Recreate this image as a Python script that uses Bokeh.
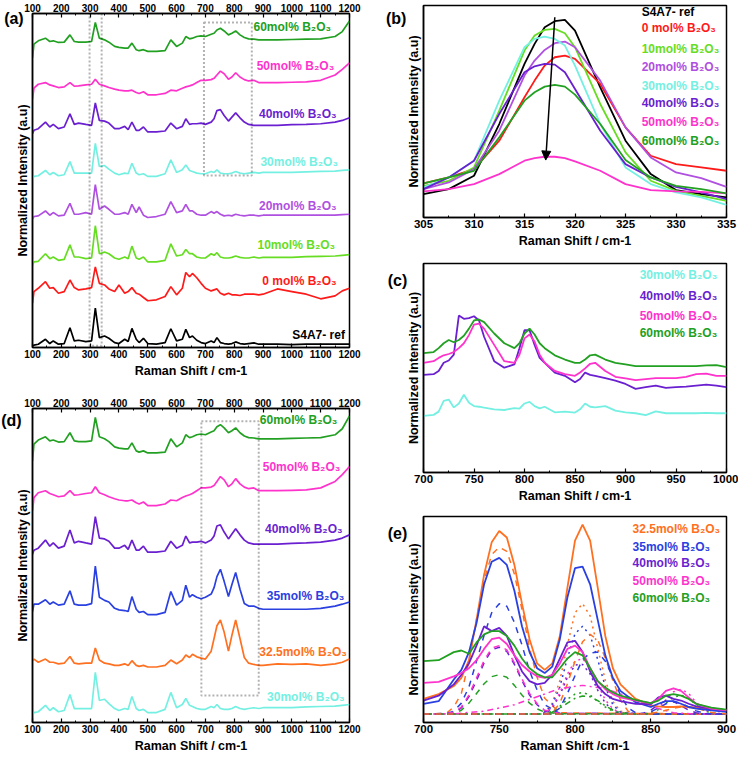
from bokeh.plotting import figure
from bokeh.layouts import row, column
from bokeh.models import Range1d, LinearAxis, FixedTicker, Label, BoxAnnotation, Arrow, NormalHead
from bokeh.embed import file_html
from bokeh.resources import INLINE

FONT = "Liberation Sans"

# ---------------- colours ----------------
C_REF = "#000000"
C_0 = "#ff1a1a"
C_10 = "#66dd22"
C_20 = "#b050e0"
C_30 = "#74f0e2"
C_40 = "#6a1fd0"
C_50 = "#ff33cc"
C_60 = "#22a022"
C_35 = "#2a40e0"
C_325 = "#ff7020"

# ---------------- panel (a)/(d) data: full spectra ----------------
X_A = [100, 105, 120, 145, 160, 172, 190, 210, 230, 245,
       260, 285, 305, 318, 332, 350, 365, 385, 400, 420,
       432, 445, 460, 470, 485, 500, 530, 560, 580, 600,
       620, 632, 645, 655, 670, 685, 700, 720, 730, 740,
       752, 765, 780, 792, 805, 820, 835, 850, 868, 885,
       900, 950, 1000, 1050, 1100, 1150, 1175, 1200]

I_REF = [0, 2, 5, 20, 7, 15, 5, 7, 55, 15, 17, 13, 15, 115, 25, 30, 23, 10, 7, 20,
         13, 53, 20, 10, 23, 7, 5, 10, 52, 15, 20, 50, 25, 30, 17, 10, 7, 15, 10, 25,
         10, 7, 5, 7, 12, 7, 5, 7, 9, 5, 5, 5, 4, 5, 5, 5, 5, 5]
I_0 = [-10, 25, 35, 55, 35, 37, 20, 25, 60, 37, 30, 33, 37, 100, 50, 45, 33, 25, 45, 20,
       25, 37, 20, 17, 7, -3, 0, 10, 40, 15, 35, 83, 70, 80, 67, 50, 35, 27, 30, 33,
       20, 15, 20, 15, 15, 13, 17, 17, 17, 15, 17, 33, 25, 17, 3, 12, 27, 35]
I_10 = [-5, 5, 7, 30, 15, 20, 10, 13, 57, 20, 20, 15, 17, 115, 30, 35, 30, 17, 13, 20,
        15, 53, 17, 13, 20, 5, 5, 10, 60, 23, 27, 43, 30, 30, 20, 17, 17, 30, 25, 33,
        20, 17, 17, 19, 23, 19, 17, 17, 20, 17, 19, 19, 19, 21, 22, 23, 25, 27]
I_20 = [-5, 3, 5, 20, 7, 15, 5, 7, 43, 10, 10, 15, 10, 100, 25, 35, 25, 10, 10, 15,
        10, 40, 15, 32, 7, 0, 3, 10, 48, 15, 20, 40, 20, 20, 10, 7, 7, 18, 13, 18,
        10, 5, 7, 5, 10, 7, 5, 7, 7, 5, 7, 7, 7, 7, 7, 7, 9, 10]
I_30 = [-5, 5, 7, 23, 10, 17, 7, 10, 50, 15, 15, 15, 15, 105, 35, 38, 27, 15, 10, 15,
        13, 45, 15, 10, 13, 5, 5, 13, 55, 17, 25, 40, 23, 20, 15, 13, 13, 20, 17, 25,
        15, 13, 13, 15, 20, 15, 13, 15, 17, 15, 17, 17, 17, 19, 20, 21, 23, 25]
I_40 = [-5, 5, 10, 30, 15, 23, 10, 15, 55, 23, 27, 23, 20, 88, 35, 33, 27, 10, 10, 17,
        7, 30, 5, 5, 15, 0, 0, 3, 27, 10, 17, 40, 23, 25, 25, 27, 23, 30, 40, 65,
        68, 50, 33, 45, 58, 43, 30, 23, 20, 20, 20, 20, 22, 23, 25, 30, 35, 43]
I_50 = [-10, 23, 35, 40, 33, 30, 25, 27, 40, 29, 30, 33, 35, 50, 35, 30, 25, 20, 17, 15,
        15, 17, 10, 7, 12, 3, 3, 7, 17, 15, 23, 27, 30, 33, 40, 47, 47, 49, 53, 63,
        75, 67, 50, 57, 70, 57, 49, 45, 47, 40, 40, 40, 41, 42, 47, 63, 80, 100]
I_60 = [-20, 22, 32, 40, 30, 32, 27, 28, 50, 30, 28, 28, 30, 88, 40, 35, 28, 15, 12, 10,
        10, 25, 5, 2, 5, 0, 0, 2, 35, 15, 25, 45, 38, 40, 45, 47, 45, 52, 55, 65,
        70, 62, 50, 55, 62, 50, 42, 38, 37, 35, 35, 35, 36, 37, 38, 45, 60, 92]
I_35 = [10, 33, 33, 47, 33, 40, 30, 33, 75, 33, 30, 30, 35, 153, 55, 45, 40, 20, 15, 13,
        10, 57, 17, 7, 10, 0, 0, 7, 73, 30, 45, 93, 55, 63, 55, 50, 55, 65, 85, 120,
        143, 105, 57, 95, 133, 80, 35, 27, 27, 20, 17, 17, 17, 17, 20, 27, 33, 40]
I_325 = [20, 25, 15, 25, 15, 15, 10, 12, 33, 12, 10, 12, 12, 60, 22, 12, 10, 5, 5, 10,
         5, 20, 5, 2, 5, 0, 0, 5, 22, 10, 22, 38, 30, 40, 32, 28, 25, 50, 90, 130,
         148, 110, 50, 100, 148, 90, 30, 12, 8, 5, 5, 10, 8, 10, 5, 10, 15, 25]

LABEL_REF = "S4A7- ref"
LABEL_0 = "0 mol% B\u2082O\u2083"
LABEL_10 = "10mol% B\u2082O\u2083"
LABEL_20 = "20mol% B\u2082O\u2083"
LABEL_30 = "30mol% B\u2082O\u2083"
LABEL_40 = "40mol% B\u2082O\u2083"
LABEL_50 = "50mol% B\u2082O\u2083"
LABEL_60 = "60mol% B\u2082O\u2083"
LABEL_35 = "35mol% B\u2082O\u2083"
LABEL_325 = "32.5mol% B\u2082O\u2083"

SERIES_A = [
    (I_REF, C_REF, 5, LABEL_REF, 1184, 38),
    (I_0, C_0, 145, LABEL_0, 1155, 202),
    (I_10, C_10, 255, LABEL_10, 1150, 310),
    (I_20, C_20, 395, LABEL_20, 1155, 430),
    (I_30, C_30, 515, LABEL_30, 1160, 565),
    (I_40, C_40, 655, LABEL_40, 1155, 710),
    (I_50, C_50, 765, LABEL_50, 1147, 855),
    (I_60, C_60, 900, LABEL_60, 1136, 975),
]
SERIES_D = [
    (I_30, C_30, 25, 1.27, LABEL_30, 1183, 80),
    (I_325, C_325, 175, 1.0, LABEL_325, 1191, 223),
    (I_35, C_35, 340, 1.0, LABEL_35, 1182, 400),
    (I_40, C_40, 537, 1.27, LABEL_40, 1176, 610),
    (I_50, C_50, 680, 1.27, LABEL_50, 1168, 805),
    (I_60, C_60, 850, 1.27, LABEL_60, 1158, 955),
]

# ---------------- panel (b) ----------------
X_B = [305, 307.5, 310, 312.5, 315, 316, 317, 318, 319, 320, 322.5, 325, 327.5, 330, 332.5, 335]
B_REF = [70, 85, 125, 280, 460, 520, 570, 588, 592, 560, 390, 230, 130, 82, 70, 60]
B_0 = [102, 120, 145, 230, 360, 410, 455, 480, 485, 475, 400, 270, 185, 160, 150, 140]
B_10 = [95, 110, 150, 320, 500, 545, 562, 565, 552, 510, 340, 195, 110, 80, 65, 50]
B_20 = [85, 105, 145, 260, 425, 470, 502, 522, 527, 510, 410, 270, 180, 135, 118, 92]
B_30 = [90, 120, 170, 350, 510, 535, 542, 535, 515, 455, 280, 150, 100, 75, 60, 38]
B_40 = [85, 120, 170, 310, 435, 453, 460, 458, 435, 385, 260, 160, 120, 92, 75, 55]
B_50 = [78, 85, 100, 130, 170, 178, 182, 182, 178, 168, 140, 100, 82, 78, 77, 72]
B_60 = [102, 120, 140, 240, 350, 375, 392, 397, 392, 368, 280, 172, 120, 95, 85, 72]
SERIES_B = [(B_REF, C_REF, LABEL_REF, 615), (B_0, C_0, LABEL_0, 568), (B_10, C_10, LABEL_10, 505),
            (B_20, C_20, LABEL_20, 450), (B_30, C_30, LABEL_30, 395), (B_40, C_40, LABEL_40, 342),
            (B_50, C_50, LABEL_50, 285), (B_60, C_60, LABEL_60, 230)]
ARROW_B = (318.0, 600, 317.1, 172)

# ---------------- panel (c) ----------------
X_C = [700, 710, 715, 720, 725, 730, 735, 740, 745, 750, 755, 760, 770, 780, 790, 795, 800, 805,
       810, 815, 820, 830, 840, 850, 855, 860, 865, 870, 880, 890, 900, 910, 920, 930, 940, 950,
       960, 970, 980, 990, 1000]
C30 = [174, 177, 187, 220, 224, 200, 212, 239, 214, 204, 202, 199, 194, 192, 198, 196, 212, 217,
       204, 197, 202, 185, 187, 184, 194, 212, 202, 200, 204, 190, 185, 182, 176, 188, 182, 182,
       182, 182, 183, 182, 182]
C40 = [300, 302, 312, 337, 344, 362, 482, 472, 474, 480, 467, 417, 342, 322, 332, 382, 437, 437,
       392, 352, 337, 307, 297, 277, 287, 307, 300, 297, 290, 282, 272, 257, 262, 267, 260, 262,
       264, 267, 270, 267, 262]
C50 = [337, 342, 352, 360, 364, 370, 382, 397, 422, 454, 457, 442, 392, 342, 337, 362, 412, 424,
       402, 362, 337, 312, 302, 297, 307, 320, 334, 337, 312, 294, 289, 284, 287, 290, 290, 290,
       294, 302, 304, 297, 297]
C60 = [367, 370, 382, 397, 407, 400, 407, 420, 442, 467, 470, 462, 427, 397, 382, 397, 427, 442,
       424, 397, 382, 360, 347, 337, 337, 347, 360, 362, 347, 337, 332, 327, 327, 327, 327, 327,
       327, 327, 329, 330, 324]
SERIES_C = [(C30, C_30, LABEL_30, 607), (C40, C_40, LABEL_40, 542), (C50, C_50, LABEL_50, 482),
            (C60, C_60, LABEL_60, 427)]

# ---------------- panel (e) ----------------
X_E = [700, 710, 720, 725, 730, 735, 740, 745, 750, 755, 760, 765, 770, 775, 780, 785, 790, 795,
       800, 805, 810, 815, 820, 825, 830, 840, 850, 855, 860, 865, 870, 875, 880, 890, 900]
E_325 = [73, 88, 113, 138, 193, 318, 458, 558, 593, 573, 488, 368, 258, 183, 163, 183, 268, 418,
         563, 613, 563, 418, 268, 168, 118, 73, 53, 50, 48, 48, 50, 48, 46, 40, 38]
E_35 = [58, 66, 133, 163, 218, 308, 428, 498, 510, 488, 408, 298, 218, 168, 153, 173, 258, 388,
        478, 483, 428, 318, 208, 138, 98, 63, 48, 58, 66, 66, 58, 48, 43, 38, 33]
E_40 = [68, 83, 118, 148, 183, 238, 298, 283, 293, 268, 208, 158, 128, 118, 123, 148, 198, 248,
        253, 218, 158, 113, 88, 73, 66, 58, 56, 78, 83, 73, 68, 58, 50, 43, 38]
E_50 = [123, 126, 143, 153, 168, 193, 228, 258, 263, 243, 208, 178, 158, 143, 138, 148, 183, 228,
        238, 218, 168, 128, 103, 88, 78, 68, 60, 73, 98, 106, 98, 78, 58, 43, 38]
E_60 = [190, 193, 218, 223, 213, 248, 273, 283, 283, 268, 238, 198, 168, 150, 140, 140, 168, 198,
        218, 208, 168, 128, 108, 93, 83, 70, 60, 68, 83, 88, 83, 73, 58, 46, 40]

XE1 = [700, 715, 720, 725, 730, 735, 740, 745, 750, 755, 760, 765, 770, 775, 780, 790, 900]
D1_325 = [26, 28, 48, 90, 190, 320, 440, 520, 543, 530, 460, 350, 230, 140, 75, 30, 26]
D1_35 = [26, 28, 35, 60, 110, 190, 270, 340, 368, 360, 310, 240, 160, 100, 55, 28, 26]
D1_40 = [26, 27, 30, 45, 80, 130, 185, 225, 233, 220, 180, 130, 85, 55, 35, 27, 26]
D1_50 = [26, 27, 32, 48, 85, 138, 192, 230, 238, 225, 185, 135, 90, 58, 38, 28, 26]
D1_60 = [26, 26, 28, 38, 60, 90, 120, 142, 148, 140, 115, 85, 60, 42, 32, 27, 26]
XE2 = [700, 775, 780, 785, 790, 795, 800, 805, 810, 815, 820, 825, 830, 840, 900]
P2_325 = [26, 26, 30, 60, 130, 240, 340, 368, 330, 230, 130, 65, 35, 27, 26]
P2_35 = [26, 26, 30, 55, 110, 200, 275, 298, 270, 195, 110, 55, 32, 27, 26]
P2_40 = [26, 26, 28, 45, 85, 140, 178, 180, 150, 100, 60, 38, 28, 26, 26]
P2_50 = [26, 26, 28, 48, 92, 150, 190, 198, 170, 118, 70, 42, 30, 27, 26]
P2_60 = [26, 26, 27, 35, 50, 72, 88, 93, 85, 65, 48, 35, 28, 26, 26]
DD2_60 = [26, 26, 27, 32, 45, 60, 75, 82, 80, 68, 52, 38, 30, 26, 26]
XE3 = [700, 780, 785, 790, 795, 800, 805, 810, 815, 820, 825, 830, 835, 840, 850, 900]
D3_325 = [26, 26, 30, 60, 120, 190, 250, 273, 255, 200, 130, 70, 35, 28, 26, 26]
D3_35 = [26, 26, 28, 45, 90, 145, 195, 215, 218, 190, 140, 85, 45, 30, 26, 26]
XE4 = [700, 720, 740, 760, 775, 790, 805, 820, 835, 850, 865, 880, 900]
DD4_50 = [26, 27, 35, 55, 80, 105, 115, 105, 80, 50, 30, 26, 26]
XE5 = [700, 845, 850, 855, 860, 865, 870, 875, 880, 885, 890, 900]
S5_50 = [26, 26, 30, 45, 70, 95, 103, 90, 62, 40, 30, 26]
S5_60 = [26, 26, 29, 40, 60, 78, 85, 75, 55, 38, 29, 26]
S5_40 = [26, 28, 38, 55, 68, 65, 52, 38, 30, 27, 26, 26]
S5_35 = [26, 27, 33, 45, 58, 64, 60, 48, 36, 29, 27, 26]
S5_325 = [26, 26, 28, 32, 38, 44, 48, 49, 45, 38, 31, 26]

SERIES_E = [(E_325, C_325, LABEL_325, 598), (E_35, C_35, LABEL_35, 543), (E_40, C_40, LABEL_40, 493),
            (E_50, C_50, LABEL_50, 438), (E_60, C_60, LABEL_60, 386)]
COMP_E = [
    (XE1, D1_325, C_325, "dashed"), (XE1, D1_35, C_35, "dashed"), (XE1, D1_40, C_40, "dashed"),
    (XE1, D1_50, C_50, "dashed"), (XE1, D1_60, C_60, "dashed"),
    (XE2, P2_325, C_325, "dotted"), (XE2, P2_35, C_35, "dotted"), (XE2, P2_40, C_40, "dotted"),
    (XE2, P2_50, C_50, "dotted"), (XE2, P2_60, C_60, "dotted"), (XE2, DD2_60, C_60, "dashdot"),
    (XE3, D3_325, C_325, "dashed"), (XE3, D3_35, C_35, "dashed"),
    (XE4, DD4_50, C_50, "dashdot"),
    (XE5, S5_50, C_50, "dotted"), (XE5, S5_60, C_60, "dotted"), (XE5, S5_40, C_40, "dashed"),
    (XE5, S5_35, C_35, "dashed"), (XE5, S5_325, C_325, "dashed"),
]

BOXES_A = [(298, 340, 5, 1015), (695, 861, 523, 988)]
BOXES_D = [(686, 885, 85, 950)]

TICKS_A = [100, 200, 300, 400, 500, 600, 700, 800, 900, 1000, 1100, 1200]
MINOR_A = [150, 250, 350, 450, 550, 650, 750, 850, 950, 1050, 1150]
TICKS_B = [305, 310, 315, 320, 325, 330, 335]
MINOR_B = [307.5, 312.5, 317.5, 322.5, 327.5, 332.5]
TICKS_C = [700, 750, 800, 850, 900, 950, 1000]
MINOR_C = [725, 775, 825, 875, 925, 975]
TICKS_E = [700, 750, 800, 850, 900]
MINOR_E = [725, 775, 825, 875]


def style_axis(ax, size):
    ax.axis_line_color = "black"
    ax.axis_line_width = 1.5
    ax.major_tick_line_color = "black"
    ax.major_tick_line_width = 1.2
    ax.major_tick_in = 4
    ax.major_tick_out = 0
    ax.minor_tick_line_color = "black"
    ax.minor_tick_in = 2
    ax.minor_tick_out = 0
    ax.major_label_text_font = FONT
    ax.major_label_text_font_style = "bold"
    ax.major_label_text_font_size = size
    ax.major_label_text_color = "black"
    ax.major_label_standoff = 2
    ax.axis_label_text_font = FONT
    ax.axis_label_text_font_style = "bold"
    ax.axis_label_text_font_size = "12.5px"
    ax.axis_label_text_color = "black"
    ax.axis_label_standoff = 3


def make_fig(w, h, xr, yr, ticks, minor, borders, tsize, top=False, xlabel="Raman Shift / cm-1"):
    bl, br, bt, bb = borders
    p = figure(width=w, height=h, x_range=Range1d(*xr), y_range=Range1d(*yr),
               output_backend="svg", toolbar_location=None,
               min_border_left=bl, min_border_right=br, min_border_top=bt, min_border_bottom=bb)
    p.xgrid.visible = False
    p.ygrid.visible = False
    p.outline_line_color = "black"
    p.outline_line_width = 1.5
    xa = p.xaxis[0]
    xa.ticker = FixedTicker(ticks=ticks, minor_ticks=minor)
    style_axis(xa, tsize)
    xa.axis_label = xlabel
    ya = p.yaxis[0]
    ya.ticker = FixedTicker(ticks=[])
    style_axis(ya, "0px")
    ya.major_label_standoff = 0
    ya.axis_label = "Normalized Intensity (a.u)"
    if top:
        ta = LinearAxis(ticker=FixedTicker(ticks=ticks, minor_ticks=minor))
        style_axis(ta, tsize)
        p.add_layout(ta, "above")
    return p


def lab(p, x, y, text, color, size="12px", align="right"):
    p.add_layout(Label(x=x, y=y, text=text, text_color=color, text_font=FONT,
                       text_font_style="bold", text_font_size=size,
                       text_align=align, text_baseline="middle"))


def letter(p, side, x, y, text):
    # placed in a side panel so that it is not clipped to the plot frame
    p.add_layout(Label(x=x, y=y, text=text, text_color="black", text_font=FONT,
                       text_font_style="bold", text_font_size="16px",
                       text_align="center", text_baseline="middle"), side)


def box(p, b):
    p.add_layout(BoxAnnotation(left=b[0], right=b[1], bottom=b[2], top=b[3], fill_color=None,
                               line_color="black", line_dash="2 2", line_width=2))


# ---------------- (a) ----------------
fa = make_fig(380, 384, (100, 1200), (0, 1015), TICKS_A, MINOR_A, (30, 26, 12, 37), "10px", top=True)
for I, col, off, text, lx, ly in SERIES_A:
    fa.line(X_A, [off + v for v in I], line_color=col, line_width=1.7)
    lab(fa, lx, ly, text, col, "12px")
for b in BOXES_A:
    box(fa, b)
letter(fa, "right", 35.5, 1000, "(a)")

# ---------------- (d) ----------------
fd = make_fig(380, 372, (100, 1200), (0, 990), TICKS_A, MINOR_A, (32, 31, 24, 34), "10px", top=True)
for I, col, off, sc, text, lx, ly in SERIES_D:
    fd.line(X_A, [off + sc * v for v in I], line_color=col, line_width=1.7)
    lab(fd, lx, ly, text, col, "12px")
for b in BOXES_D:
    box(fd, b)
letter(fd, "right", 27, 952, "(d)")

# ---------------- (b) ----------------
fb = make_fig(358, 254, (305, 335), (0, 635), TICKS_B, MINOR_B, (43, 12, 5, 37), "11.5px")
for ys, col, text, ly in SERIES_B:
    fb.line(X_B, ys, line_color=col, line_width=1.8)
    lab(fb, 326.6, ly, text, col, "12px", "left")
fb.add_layout(Arrow(end=NormalHead(size=9, fill_color="black", line_color="black"),
                    x_start=ARROW_B[0], y_start=ARROW_B[1], x_end=ARROW_B[2], y_end=ARROW_B[3],
                    line_color="black", line_width=1.5))
letter(fb, "left", 302.3, 596, "(b)")

# ---------------- (c) ----------------
fc = make_fig(358, 252, (700, 1000), (0, 642), TICKS_C, MINOR_C, (43, 12, 9, 34), "11.5px")
for ys, col, text, ly in SERIES_C:
    fc.line(X_C, ys, line_color=col, line_width=1.8)
    lab(fc, 914, ly, text, col, "12px", "left")
letter(fc, "left", 674.3, 590, "(c)")

# ---------------- (e) ----------------
fe = make_fig(358, 250, (700, 900), (0, 638), TICKS_E, MINOR_E, (43, 12, 10, 34), "11.5px",
              xlabel="Raman Shift /cm-1")
for xs, ys, col, dash in COMP_E:
    fe.line(xs, ys, line_color=col, line_width=1.5, line_dash=dash)
for ys, col, text, ly in SERIES_E:
    fe.line(X_E, ys, line_color=col, line_width=1.8)
    lab(fe, 838, ly, text, col, "12px", "left")
letter(fe, "left", 682.8, 585, "(e)")

layout = row(column(fa, fd), column(fb, fc, fe))
open("out.html", "w").write(file_html(layout, INLINE))
